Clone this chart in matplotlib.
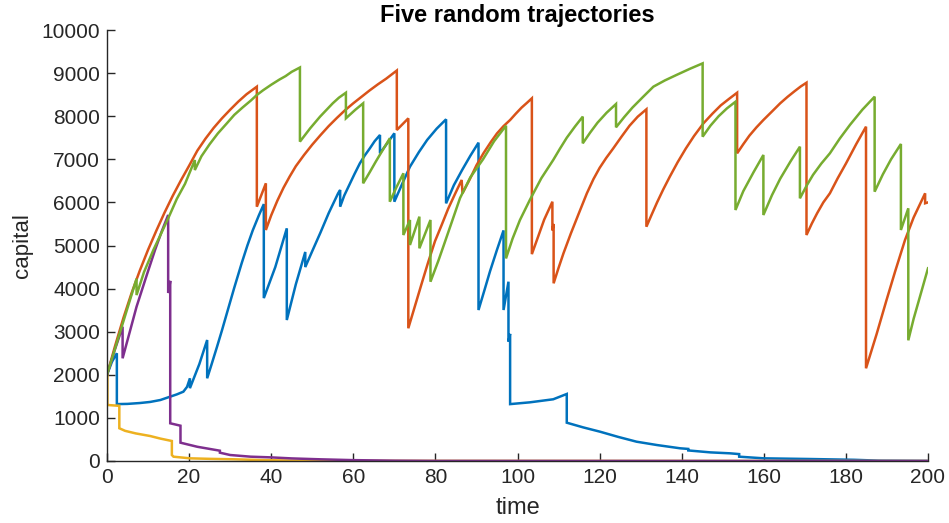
import matplotlib
matplotlib.use("Agg")
import matplotlib.pyplot as plt

plt.rcParams['font.family'] = ['Liberation Sans', 'DejaVu Sans']

# ---- data (time, capital); repeated times = jumps ----
blue_t = [0, 1.2, 2.4, 2.4, 5, 8, 10.5, 13, 15.3, 17, 18.6, 19.5, 20.2, 20.2, 22.5, 24.4,
          24.4, 25.5, 26.8, 28, 29.2, 31, 32.8, 34.2, 35.5, 37, 38.2,
          38.2, 41, 43.8, 43.8, 46, 48.3, 48.3, 50, 52, 54, 56.3, 56.8,
          56.8, 57.8, 59, 60.3, 61.6, 62.8, 64, 65.2, 66.5, 66.5, 70,
          70, 72, 73.8, 76, 78, 80.3, 82.6, 82.6, 84.5, 86.5, 88.5, 90.5,
          90.5, 92, 93.3, 95, 96.6, 96.6, 97.8, 97.8, 98.2, 98.2,
          103, 108.7, 112, 112, 116, 120.1, 124.5, 129, 134, 139.6, 141.6, 141.6, 147, 151.8, 154, 154,
          160, 171.3, 182, 188, 200]
blue_y = [2000, 2300, 2500, 1320, 1325, 1345, 1370, 1415, 1490, 1545, 1608, 1720, 1919, 1690, 2250, 2807,
          1919, 2250, 2650, 3030, 3427, 4020, 4587, 5000, 5350, 5700, 5960,
          3780, 4500, 5398, 3271, 4100, 4850, 4500, 4870, 5300, 5750, 6211, 6288,
          5900, 6160, 6400, 6660, 6907, 7090, 7250, 7420, 7564, 7139, 7603,
          6016, 6450, 6828, 7170, 7450, 7710, 7928, 5978, 6400, 6750, 7080, 7386,
          3503, 3980, 4400, 4900, 5350, 3503, 4160, 2770, 2950, 1320,
          1361, 1432, 1555, 889, 780, 680, 560, 448, 370, 295, 280, 245, 200, 178, 160, 100,
          62, 46, 28, 8, 2]

orange_t = [0, 2, 4, 6, 8, 10, 12, 14, 16, 18, 20, 22, 24, 26, 28, 30, 32, 34, 36.5,
            36.5, 38.7, 38.7, 40, 41.5, 43, 44.5, 46, 48, 50, 52, 54, 56, 58, 60, 62, 64, 66, 68, 70.6,
            70.6, 73.4, 73.4, 75, 76.6, 78.2, 79.9, 81.5, 83.1, 84.8, 86.4,
            86.6, 88.5, 90, 91.7, 93.5, 95, 96.6, 98.2, 99.6, 101, 102.3, 103.5,
            103.5, 105, 106.5, 108.5, 108.5, 108.8, 108.8, 110, 111.2, 113, 115, 116.9, 118.5, 120, 121.6,
            123.3, 125.3, 127.3, 129.3, 131.4,
            131.4, 132.7, 134, 135.5, 137.1, 139, 141, 143, 145.3, 147.5, 149.5, 151.5, 153.5,
            153.5, 155, 156.5, 158.2, 159.9, 162, 164, 165.8, 167.5, 169, 170.4,
            170.4, 171.7, 173, 174.5, 176.1, 178, 180, 182.5, 184.9,
            184.9, 187.5, 189.9, 192, 194.4, 196.5, 199.3, 199.3, 200]
orange_y = [2000, 2680, 3320, 3900, 4420, 4900, 5340, 5760, 6150, 6510, 6850, 7200, 7480, 7730, 7950, 8150, 8340, 8510, 8685,
            5900, 6443, 5360, 5700, 6040, 6340, 6600, 6840, 7100, 7340, 7560, 7770, 7960, 8140, 8300, 8450, 8600, 8740, 8870, 9060,
            7680, 7950, 3080, 3590, 4100, 4600, 5100, 5470, 5850, 6200, 6520,
            6211, 6560, 6860, 7139, 7400, 7600, 7770, 7912, 8060, 8200, 8310, 8415,
            4800, 5200, 5600, 6016, 5350, 5500, 4123, 4480, 4819, 5280, 5760, 6211, 6540, 6800, 7030,
            7250, 7520, 7780, 7990, 8160,
            5436, 5720, 6000, 6300, 6597, 6930, 7250, 7540, 7835, 8060, 8250, 8400, 8545,
            7139, 7350, 7550, 7740, 7912, 8110, 8300, 8450, 8580, 8690, 8777,
            5244, 5510, 5750, 6000, 6211, 6560, 6900, 7350, 7757,
            2151, 2950, 3735, 4400, 5128, 5650, 6211, 5980, 6000]

yellow_t = [0, 0.1, 0.1, 3.0, 3.0, 4.4, 7, 10.5, 13, 15.8, 15.8, 16.2, 20.2, 25, 30.8, 37.3, 45, 55, 200]
yellow_y = [2000, 2000, 1300, 1280, 760, 700, 640, 580, 520, 464, 139, 100, 62, 50, 40, 23, 10, 3, 0]

purple_t = [0, 1.9, 3.8, 3.8, 5.5, 7.2, 9.5, 11.7, 13.3, 14.9, 14.9, 15.1, 15.4, 15.4, 17.9, 17.9, 22, 27.5,
            27.5, 30, 35, 39.7, 45, 52, 60, 70, 80, 200]
purple_y = [2000, 2580, 3116, 2383, 2980, 3580, 4260, 4896, 5320, 5708, 3900, 3950, 4180, 875, 819, 425, 330, 239,
            193, 139, 100, 85, 60, 39, 20, 8, 3, 0]

green_t = [0, 3.6, 7.2, 7.2, 9, 11.3, 13, 15, 17, 19, 21.4, 21.4, 23, 25, 27, 29.2, 31, 33, 35, 36.5, 38, 40,
           42, 43.5, 45, 47, 47, 49.5, 51.9, 53.5, 55, 56.5, 58.2,
           58.2, 60.5, 62.4, 62.4, 64, 65.5, 67.2, 68.9, 68.9, 70.5, 72.2, 72.2, 73.8, 73.8, 76.1, 76.1, 78.8, 78.8,
           80.7, 82.2, 83.6, 86, 88.5, 91.6, 94.3, 97.2, 97.2, 98.8, 100.6, 103, 105.8, 108.7, 110.3, 112, 114, 115.9,
           115.9, 117.7, 119.5, 121.7, 124, 124, 126, 128, 130.5, 133.1, 135.9, 138.8, 142, 145.1,
           145.1, 147, 149, 151, 153.1, 153.1, 155, 157.5, 159.9, 159.9, 162, 164, 166.5, 168.8,
           168.8, 170.5, 172, 174, 176.1, 178.5, 181, 184, 187, 187, 189, 191, 193.4, 193.4, 195.2, 195.2,
           196.5, 198, 200]
green_y = [2000, 3120, 4230, 3850, 4380, 4896, 5240, 5650, 6080, 6430, 6983, 6751, 7070, 7350, 7600, 7835, 8030, 8200, 8360, 8492, 8600, 8730,
           8850, 8930, 9030, 9130, 7410, 7720, 7990, 8150, 8300, 8430, 8545,
           7951, 8150, 8299, 6443, 6700, 6950, 7220, 7487, 6016, 6350, 6675, 5244, 5592, 5012, 5669, 4935, 5592, 4160,
           4640, 5050, 5436, 6100, 6580, 7000, 7420, 7780, 4700, 5160, 5592, 6056, 6560, 6984, 7240, 7500, 7760, 7990,
           7371, 7620, 7850, 8080, 8283, 7742, 7980, 8200, 8440, 8685, 8830, 8960, 9100, 9226,
           7525, 7780, 8000, 8180, 8336, 5824, 6260, 6700, 7100, 5708, 6170, 6550, 6950, 7293,
           6095, 6400, 6640, 6900, 7139, 7480, 7800, 8150, 8453, 6249, 6650, 7000, 7355, 5360, 5863, 2800,
           3300, 3800, 4471]

series = [(blue_t, blue_y, '#0072BD'), (orange_t, orange_y, '#D95319'), (yellow_t, yellow_y, '#EDB120'),
          (purple_t, purple_y, '#7E2F8E'), (green_t, green_y, '#77AC30')]

fig = plt.figure(figsize=(9.49, 5.23), dpi=100)
ax = fig.add_axes([107/949, 1-461/523, (928-107)/949, (461-30)/523])
for t, y, c in series:
    ax.plot(t, y, color=c, lw=1.8, solid_joinstyle='miter')

ax.set_xlim(0, 200)
ax.set_ylim(0, 10000)
ax.set_xticks(range(0, 201, 20))
ax.set_yticks(range(0, 10001, 1000))
ax.spines['top'].set_visible(False)
ax.spines['right'].set_visible(False)
for s in ('left', 'bottom'):
    ax.spines[s].set_color('#262626')
    ax.spines[s].set_linewidth(1.0)
ax.tick_params(direction='in', length=6, width=1, colors='#262626', labelsize=15, pad=5)
ax.set_xlabel('time', fontsize=17, color='#262626', labelpad=7)
ax.set_ylabel('capital', fontsize=16, color='#262626', labelpad=6)
ax.set_title('Five random trajectories', fontsize=17, fontweight='bold', pad=6)
fig.savefig('out.png', dpi=100)
